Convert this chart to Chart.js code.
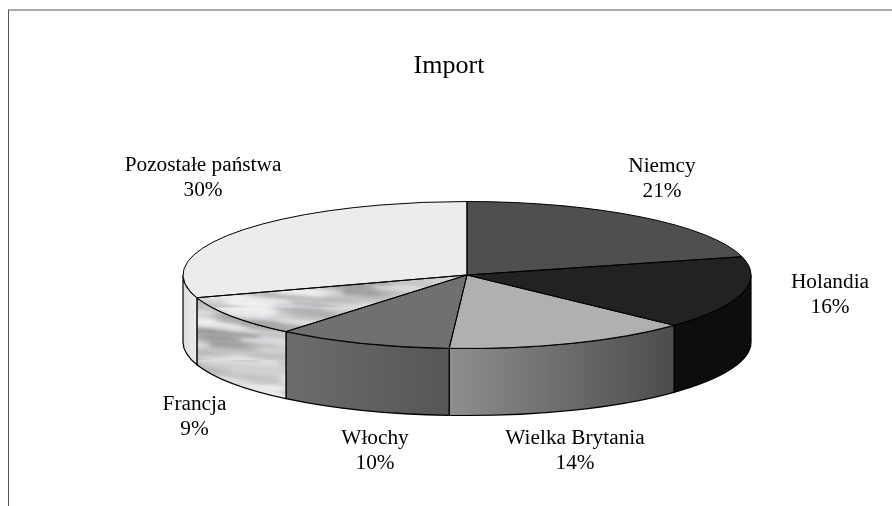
<!DOCTYPE html>
<html><head><meta charset="utf-8">
<style>html,body{margin:0;padding:0;background:#fff}canvas{display:block}</style>
<script src="https://cdn.jsdelivr.net/npm/chart.js@4"></script>
</head><body><canvas id="c" width="892" height="506"></canvas>
<script>
const chartTitle = 'Import';
const categories = ['Niemcy','Holandia','Wielka Brytania','Włochy','Francja','Pozostałe państwa'];
const shares = [21,16,14,10,9,30];
const topColors = ['#4f4f4f','#222222','#b0b0b0','#707070',null,'#ececec'];
const wallLeft  = ['#4f4f4f','#0d0d0d','#8e8e8e','#6c6c6c',null,'#dcdcdc'];
const wallRight = ['#4f4f4f','#0d0d0d','#4c4c4c','#565656',null,'#ececec'];
const labelX = [662,830,575,375,194.5,203];
const labelBaseline = [172,288,444,444,410,171];
const LINE_GAP = 24.5;
const TEXTURE_SLICE = 4;
const RX = 284, RY = 73.5, DEPTH = 67;
const FONT = '"Liberation Serif", serif';

function makeTexture(){
  const t = document.createElement('canvas'); t.width = 240; t.height = 120;
  const g = t.getContext('2d');
  g.fillStyle = '#dcdce0'; g.fillRect(0,0,240,120);
  g.filter = 'blur(2.2px)';
  for(let i=0;i<130;i++){
    const x=(i*97)%240, y=(i*37)%120, w=22+(i*13)%40, h=1.5+(i*7)%3;
    const v=[168,238,190,228,150,244,205][i%7];
    g.fillStyle='rgb('+v+','+v+','+(v+2)+')';
    g.beginPath();
    for(const ox of [-240,0,240]){ g.ellipse(x+ox,y,w,h,0.08,0,Math.PI*2); g.closePath(); }
    g.fill();
  }
  return t;
}
const ctx = document.getElementById('c').getContext('2d');
const texture = ctx.createPattern(makeTexture(),'repeat');

const pie3d = {
  id:'pie3d',
  beforeDraw(chart){
    const c=chart.ctx; c.save();
    c.fillStyle='#fff'; c.fillRect(0,0,892,506);
    c.fillStyle='#a8a8a8'; c.fillRect(8,9,884,2);
    c.fillStyle='#555'; c.fillRect(8,10,1,496);
    c.restore();
  },
  beforeDatasetsDraw(chart){
    const c=chart.ctx, arcs=chart.getDatasetMeta(0).data, a0=arcs[0];
    const cx=a0.x, cy=a0.y, R=a0.outerRadius;
    texture.setTransform(new DOMMatrix());
    c.save();
    c.strokeStyle='#000'; c.lineWidth=1.2;
    arcs.forEach((a,i)=>{
      const s=Math.max(a.startAngle,0), e=Math.min(a.endAngle,Math.PI);
      if(e<=s) return;
      const xl=cx+RX*Math.cos(e), xr=cx+RX*Math.cos(s);
      c.beginPath();
      c.ellipse(cx,cy,RX,RY,0,s,e);
      c.ellipse(cx,cy+DEPTH,RX,RY,0,e,s,true);
      c.closePath();
      if(i===TEXTURE_SLICE){ c.fillStyle=texture; }
      else{
        const g=c.createLinearGradient(xl,0,xr,0);
        g.addColorStop(0,wallLeft[i]); g.addColorStop(1,wallRight[i]);
        c.fillStyle=g;
      }
      c.fill(); c.stroke();
    });
    c.restore();
    texture.setTransform(new DOMMatrix().scale(R/RX,R/RY));
    c.save();
    c.translate(cx,cy); c.scale(RX/R,RY/R); c.translate(-cx,-cy);
  },
  afterDatasetsDraw(chart){
    const c=chart.ctx, arcs=chart.getDatasetMeta(0).data;
    c.restore();
    c.save();
    c.strokeStyle='#000'; c.lineWidth=1; c.lineJoin='round';
    arcs.forEach(a=>{
      c.beginPath();
      c.moveTo(a.x,a.y);
      c.ellipse(a.x,a.y,RX,RY,0,a.startAngle,a.endAngle);
      c.closePath();
      c.stroke();
    });
    c.restore();
  },
  afterDraw(chart){
    const c=chart.ctx; c.save();
    c.fillStyle='#000'; c.textAlign='center'; c.textBaseline='alphabetic';
    c.font='26px '+FONT;
    c.fillText(chartTitle,449,73);
    c.font='21.3px '+FONT;
    categories.forEach((n,i)=>{
      c.fillText(n,labelX[i],labelBaseline[i]);
      c.fillText(shares[i]+'%',labelX[i],labelBaseline[i]+LINE_GAP);
    });
    c.restore();
  }
};

new Chart(ctx,{
  type:'pie',
  data:{labels:categories,datasets:[{
    data:shares,
    backgroundColor:topColors.map(v=>v===null?texture:v),
    borderWidth:0,
    clip:false
  }]},
  options:{
    responsive:false,animation:false,events:[],
    layout:{padding:{left:42,top:44,right:0,bottom:0}},
    plugins:{legend:{display:false},tooltip:{enabled:false},title:{display:false}}
  },
  plugins:[pie3d]
});
</script></body></html>
